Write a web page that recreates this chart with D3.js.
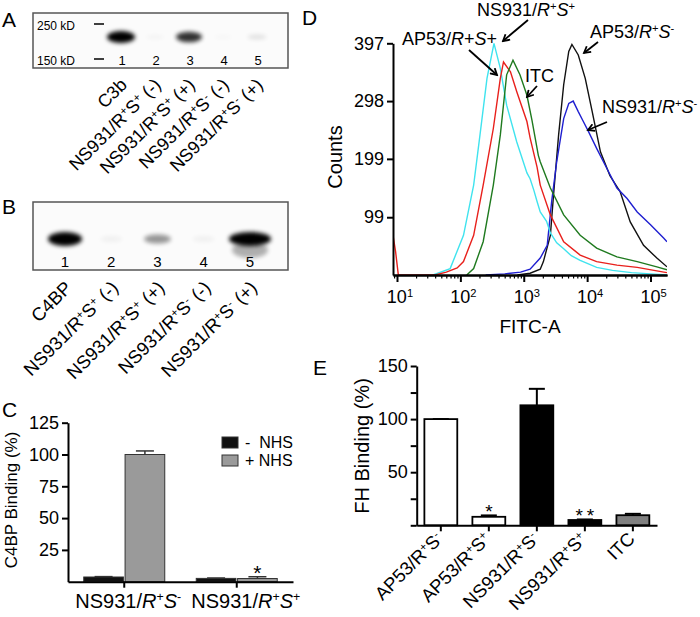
<!DOCTYPE html>
<html>
<head>
<meta charset="utf-8">
<script src="https://cdn.jsdelivr.net/npm/d3@7"></script>
<style>
body { margin: 0; background: #fff; }
svg { font-family: "Liberation Sans", Arial, sans-serif; }
</style>
</head>
<body>
<svg id="fig" width="700" height="617"></svg>
<script>
// ---------- data ----------
const laneNumbers = ["1", "2", "3", "4", "5"];
const blotALabels = ["C3b",
  "NS931/R<sup>+</sup>S<sup>+</sup> (-)", "NS931/R<sup>+</sup>S<sup>+</sup> (+)",
  "NS931/R<sup>+</sup>S<sup>-</sup> (-)", "NS931/R<sup>+</sup>S<sup>-</sup> (+)"];
const blotAIntensity = [1, 0.03, 0.8, 0.02, 0.1];
const blotAMarkers = ["250 kD", "150 kD"];
const blotBLabels = ["C4BP",
  "NS931/R<sup>+</sup>S<sup>+</sup> (-)", "NS931/R<sup>+</sup>S<sup>+</sup> (+)",
  "NS931/R<sup>+</sup>S<sup>-</sup> (-)", "NS931/R<sup>+</sup>S<sup>-</sup> (+)"];
const blotBIntensity = [1, 0.04, 0.4, 0.04, 1];
const blotBSmear = [0, 0, 0, 0, 0.3];

const c4bpGroups = ["NS931/<i>R</i><sup>+</sup><i>S</i><sup>-</sup>", "NS931/<i>R</i><sup>+</sup><i>S</i><sup>+</sup>"];
const nhsSeries = ["-  NHS", "+ NHS"];
const c4bpMinus = [3.7, 2.6];
const c4bpMinusErr = [0.3, 0.3];
const c4bpPlus = [100, 2.5];
const c4bpPlusErr = [2.8, 1.4];
const c4bpSig = ["", "*"];
const c4bpTicks = [25, 50, 75, 100, 125];

const flowNames = ["AP53/R+S-", "NS931/R+S-", "AP53/R+S+", "NS931/R+S+", "ITC"];
const flowColors = ["#111111", "#1f1fd0", "#3fe3ee", "#e8201c", "#1f7a1f"];
const flowAP53Minus = [[794, 0], [1259, 3], [1820, 10], [2042, 23], [2630, 68], [2951, 137], [3548, 240],
  [4266, 326], [5129, 383], [5754, 395], [7244, 377], [9333, 337], [12023, 280], [16218, 211],
  [22909, 170], [33113, 143], [47863, 91], [77625, 51], [125893, 29], [182000, 14]];
const flowNS931Minus = [[251, 0], [501, 2], [891, 5], [1259, 10], [1820, 29], [2344, 51], [2754, 126],
  [3311, 194], [4266, 268], [5129, 294], [6026, 298], [7244, 280], [8710, 263], [10471, 246],
  [14125, 217], [20417, 183], [29512, 149], [42658, 131], [61660, 108], [100000, 86], [162181, 63], [182000, 57]];
const flowAP53Plus = [[37, 0], [69, 11], [112, 68], [162, 154], [204, 240], [263, 337], [339, 397],
  [427, 354], [537, 291], [776, 228], [1122, 175], [1259, 165], [1445, 145], [1622, 126], [1820, 108],
  [2290, 92], [2630, 72], [3311, 55], [4266, 45], [5623, 33], [7762, 25], [14125, 13], [25119, 8],
  [50119, 4], [100000, 2], [182000, 0]];
const flowNS931Plus = [[8.65, 68], [9.5, 40], [10.5, 0], [40, 0], [60, 5], [89, 12], [112, 23], [162, 68],
  [229, 154], [331, 251], [427, 337], [479, 365], [617, 348], [776, 314], [1122, 263], [1259, 235],
  [1622, 185], [1820, 154], [2630, 103], [4266, 57], [7762, 34], [14125, 23], [29512, 17],
  [61660, 13], [162181, 5], [182000, 4]];
const flowITC = [[126, 0], [162, 11], [229, 57], [331, 154], [427, 240], [537, 343], [676, 368],
  [871, 343], [1122, 308], [1349, 265], [1698, 205], [1820, 194], [2630, 149], [4266, 103],
  [7762, 68], [14125, 46], [29512, 31], [61660, 23], [125893, 14], [182000, 9]];
const flowCounts = [99, 199, 298, 397];
const flowDecades = [1, 2, 3, 4, 5];

const fhGroups = ["AP53/R<sup>+</sup>S<sup>-</sup>", "AP53/R<sup>+</sup>S<sup>+</sup>",
  "NS931/R<sup>+</sup>S<sup>-</sup>", "NS931/R<sup>+</sup>S<sup>+</sup>", "ITC"];
const fhValues = [100, 8, 113, 5, 9.5];
const fhErr = [0, 1.3, 15.5, 0.5, 1.3];
const fhSig = ["", "*", "", "**", ""];
const fhTicks = [0, 25, 50, 75, 100, 125, 150];
const fhLabelTicks = [50, 100, 150];

// ---------- helpers ----------
const svg = d3.select("#fig");

function rich(t, markup) {
  const re = /<(i|sup)>(.*?)<\/\1>|([^<]+)/g;
  let m;
  while ((m = re.exec(markup)) !== null) {
    if (m[3]) t.append("tspan").text(m[3]);
    else if (m[1] === "i") t.append("tspan").attr("font-style", "italic").text(m[2]);
    else t.append("tspan").attr("baseline-shift", "super").attr("font-size", "0.62em").text(m[2]);
  }
  return t;
}

function styleAxis(g) {
  g.attr("font-family", null).attr("font-size", null);
  g.selectAll("path.domain").attr("stroke", "#000").attr("stroke-width", 2);
  g.selectAll(".tick line").attr("stroke", "#000").attr("stroke-width", 2);
  g.selectAll(".tick text").attr("fill", "#000").attr("font-size", 18);
}

const defs = svg.append("defs");
defs.append("filter").attr("id", "blur").attr("x", "-50%").attr("y", "-100%")
  .attr("width", "200%").attr("height", "300%")
  .append("feGaussianBlur").attr("stdDeviation", 2.2);
defs.append("marker").attr("id", "arrow").attr("viewBox", "0 0 10 10")
  .attr("refX", 8).attr("refY", 5).attr("markerWidth", 5).attr("markerHeight", 5)
  .attr("orient", "auto")
  .append("path").attr("d", "M1,1 L8,5 L1,9").attr("fill", "none")
  .attr("stroke", "#000").attr("stroke-width", 2);
defs.append("clipPath").attr("id", "flowClip").append("rect")
  .attr("x", 393).attr("y", 0).attr("width", 274).attr("height", 276);

// panel letters
[["A", 2, 27], ["B", 2, 214], ["C", 2, 417], ["D", 302, 25], ["E", 313, 375]].forEach(([l, x, y]) => {
  svg.append("text").attr("x", x).attr("y", y).attr("font-size", 21).text(l);
});

// ---------- A: blot ----------
const laneA = d3.scalePoint().domain(laneNumbers).range([122, 258]);
const gA = svg.append("g");
gA.append("rect").attr("x", 33).attr("y", 13).attr("width", 255).attr("height", 55)
  .attr("fill", "#fbfbfb").attr("stroke", "#555").attr("stroke-width", 1.5);
gA.selectAll(".band").data(laneNumbers).enter().append("ellipse")
  .attr("cx", d => laneA(d) - 1)
  .attr("cy", 37)
  .attr("rx", (d, i) => 9 + 5 * blotAIntensity[i])
  .attr("ry", (d, i) => 2 + 4 * blotAIntensity[i])
  .attr("fill", "#000")
  .attr("opacity", (d, i) => blotAIntensity[i])
  .attr("filter", "url(#blur)");
gA.selectAll(".lane").data(laneNumbers).enter().append("text")
  .attr("x", d => laneA(d)).attr("y", 65).attr("text-anchor", "middle")
  .attr("font-size", 13).text(d => d);
blotAMarkers.forEach((m, i) => {
  const y = [24, 59][i];
  gA.append("text").attr("x", 37).attr("y", y + 6).attr("font-size", 12).text(m);
  gA.append("line").attr("x1", 94).attr("x2", 104).attr("y1", y).attr("y2", y)
    .attr("stroke", "#000").attr("stroke-width", 1.5);
});
gA.selectAll(".lbl").data(blotALabels).enter().append("text")
  .attr("transform", (d, i) => `translate(${laneA(laneNumbers[i]) + 6},86) rotate(-45)`)
  .attr("text-anchor", "end").attr("font-size", 18)
  .each(function(d) { rich(d3.select(this), d); });

// ---------- B: blot ----------
const laneB = d3.scalePoint().domain(laneNumbers).range([65, 250]);
const gB = svg.append("g");
gB.append("rect").attr("x", 33).attr("y", 202).attr("width", 255).attr("height", 68)
  .attr("fill", "#fbfbfb").attr("stroke", "#555").attr("stroke-width", 1.5);
gB.selectAll(".smear").data(laneNumbers).enter().append("ellipse")
  .attr("cx", d => laneB(d)).attr("cy", 250)
  .attr("rx", 18).attr("ry", 8)
  .attr("fill", "#000").attr("opacity", (d, i) => blotBSmear[i])
  .attr("filter", "url(#blur)");
gB.selectAll(".band").data(laneNumbers).enter().append("ellipse")
  .attr("cx", d => laneB(d))
  .attr("cy", 239)
  .attr("rx", (d, i) => 11 + 6 * blotBIntensity[i] + (i === 4 ? 4 : 0))
  .attr("ry", (d, i) => 3 + 4 * blotBIntensity[i])
  .attr("fill", "#000")
  .attr("opacity", (d, i) => blotBIntensity[i])
  .attr("filter", "url(#blur)");
gB.selectAll(".lane").data(laneNumbers).enter().append("text")
  .attr("x", d => laneB(d)).attr("y", 267).attr("text-anchor", "middle")
  .attr("font-size", 15).text(d => d);
gB.selectAll(".lbl").data(blotBLabels).enter().append("text")
  .attr("transform", (d, i) => `translate(${laneB(laneNumbers[i]) + 8},289) rotate(-45)`)
  .attr("text-anchor", "end").attr("font-size", 18.5)
  .each(function(d) { rich(d3.select(this), d); });

// ---------- C: C4BP binding ----------
const xC = d3.scaleBand().domain(c4bpGroups).range([68, 293]).paddingInner(0.28).paddingOuter(0.14);
const xCsub = d3.scaleBand().domain(nhsSeries).range([0, xC.bandwidth()]).paddingInner(0.04);
const yC = d3.scaleLinear().domain([0, 125]).range([581.7, 422.7]);
const gC = svg.append("g");
const cData = c4bpGroups.flatMap((g, i) => [
  { g, s: nhsSeries[0], v: c4bpMinus[i], e: c4bpMinusErr[i], fill: "#111", sig: "" },
  { g, s: nhsSeries[1], v: c4bpPlus[i], e: c4bpPlusErr[i], fill: "#9a9a9a", sig: c4bpSig[i] }
]);
const cBars = gC.selectAll(".bar").data(cData).enter().append("g");
cBars.append("line")
  .attr("x1", d => xC(d.g) + xCsub(d.s) + xCsub.bandwidth() / 2)
  .attr("x2", d => xC(d.g) + xCsub(d.s) + xCsub.bandwidth() / 2)
  .attr("y1", d => yC(d.v)).attr("y2", d => yC(d.v + d.e))
  .attr("stroke", "#333").attr("stroke-width", 1.5);
cBars.append("line")
  .attr("x1", d => xC(d.g) + xCsub(d.s) + xCsub.bandwidth() / 2 - 9)
  .attr("x2", d => xC(d.g) + xCsub(d.s) + xCsub.bandwidth() / 2 + 9)
  .attr("y1", d => yC(d.v + d.e)).attr("y2", d => yC(d.v + d.e))
  .attr("stroke", "#333").attr("stroke-width", 1.5);
cBars.append("rect")
  .attr("x", d => xC(d.g) + xCsub(d.s))
  .attr("y", d => yC(d.v))
  .attr("width", xCsub.bandwidth())
  .attr("height", d => yC(0) - yC(d.v))
  .attr("fill", d => d.fill).attr("stroke", "#333").attr("stroke-width", 1);
cBars.append("text")
  .attr("x", d => xC(d.g) + xCsub(d.s) + xCsub.bandwidth() / 2)
  .attr("y", d => yC(d.v + d.e) + 3)
  .attr("text-anchor", "middle").attr("font-size", 21)
  .text(d => d.sig);

gC.append("g").attr("transform", "translate(68,0)")
  .call(d3.axisLeft(yC).tickValues(c4bpTicks).tickSize(6).tickSizeOuter(0))
  .call(styleAxis);
gC.append("g").attr("transform", "translate(0,581.7)")
  .call(d3.axisBottom(xC).tickSize(6).tickSizeOuter(0).tickFormat(""))
  .call(styleAxis);
gC.selectAll(".clbl").data(c4bpGroups).enter().append("text")
  .attr("x", (d, i) => xC(d) + xC.bandwidth() / 2 + [4, 9][i]).attr("y", 608)
  .attr("text-anchor", "middle").attr("font-size", 20)
  .each(function(d) { rich(d3.select(this), d); });
gC.append("text").attr("transform", "translate(17,500) rotate(-90)")
  .attr("text-anchor", "middle").attr("font-size", 17).text("C4BP Binding (%)");
nhsSeries.forEach((s, i) => {
  gC.append("rect").attr("x", 222).attr("y", 437 + 18 * i).attr("width", 16).attr("height", 11)
    .attr("fill", i === 0 ? "#111" : "#9a9a9a").attr("stroke", "#333");
  gC.append("text").attr("x", 245).attr("y", 448 + 18 * i).attr("font-size", 16)
    .attr("xml:space", "preserve").text(s);
});

// ---------- D: flow cytometry ----------
const xD = d3.scaleLog().domain([8.65, 182000]).range([393, 667]);
const yD = d3.scaleLinear().domain([0, 397]).range([275, 43.3]);
const gD = svg.append("g");
const flowSeries = [flowAP53Minus, flowNS931Minus, flowAP53Plus, flowNS931Plus, flowITC];
const lineD = d3.line().x(d => xD(d[0])).y(d => yD(d[1]));
gD.append("g").attr("clip-path", "url(#flowClip)")
  .selectAll("path").data(flowSeries).enter().append("path")
  .attr("d", lineD).attr("fill", "none")
  .attr("stroke", (d, i) => flowColors[i]).attr("stroke-width", 1.4);

const minorTicks = [];
flowDecades.concat([0]).forEach(k => {
  for (let m = 2; m <= 9; m++) {
    const v = m * Math.pow(10, k);
    if (v > xD.domain()[0] && v < xD.domain()[1]) minorTicks.push(v);
  }
});
gD.append("g").attr("transform", "translate(0,275)")
  .call(d3.axisBottom(xD).tickValues(flowDecades.map(k => Math.pow(10, k))).tickSize(7).tickSizeOuter(0).tickFormat(""))
  .call(styleAxis);
gD.append("g").attr("transform", "translate(0,275)")
  .call(d3.axisBottom(xD).tickValues(minorTicks).tickSize(3.5).tickSizeOuter(0).tickFormat(""))
  .call(styleAxis)
  .call(g => g.selectAll(".tick line").attr("stroke-width", 1.2));
gD.selectAll(".dlbl").data(flowDecades).enter().append("text")
  .attr("x", k => xD(Math.pow(10, k)) + 3).attr("y", 303)
  .attr("text-anchor", "middle").attr("font-size", 18)
  .each(function(k) { rich(d3.select(this), `10<sup>${k}</sup>`); });
gD.append("g").attr("transform", "translate(393,0)")
  .call(d3.axisLeft(yD).tickValues(flowCounts).tickSize(6).tickSizeOuter(0))
  .call(styleAxis);
gD.append("text").attr("transform", "translate(342,157) rotate(-90)")
  .attr("text-anchor", "middle").attr("font-size", 20).text("Counts");
gD.append("text").attr("x", 530).attr("y", 333)
  .attr("text-anchor", "middle").attr("font-size", 19).text("FITC-A");

const notes = [
  { t: "NS931/<i>R</i><sup>+</sup><i>S</i><sup>+</sup>", x: 477, y: 16, a: [528, 20, 503, 41] },
  { t: "AP53/<i>R</i>+<i>S</i>+", x: 402, y: 45, a: [469, 50, 497, 75] },
  { t: "ITC", x: 525, y: 82, a: [537, 86, 527, 97] },
  { t: "AP53/<i>R</i><sup>+</sup><i>S</i><sup>-</sup>", x: 590, y: 38, a: [598, 42, 584, 53] },
  { t: "NS931/<i>R</i><sup>+</sup><i>S</i><sup>-</sup>", x: 602, y: 113, a: [607, 122, 588, 130] }
];
notes.forEach(n => {
  rich(gD.append("text").attr("x", n.x).attr("y", n.y).attr("font-size", 18), n.t);
  gD.append("line").attr("x1", n.a[0]).attr("y1", n.a[1]).attr("x2", n.a[2]).attr("y2", n.a[3])
    .attr("stroke", "#000").attr("stroke-width", 1.8).attr("marker-end", "url(#arrow)");
});

// ---------- E: FH binding ----------
const xE = d3.scaleBand().domain(fhGroups).range([416.7, 657]).paddingInner(0.315).paddingOuter(0.16);
const yE = d3.scaleLinear().domain([0, 150]).range([525.3, 366]);
const gE = svg.append("g");
const fhFills = ["#fff", "#fff", "#000", "#000", "#808080"];
const eBars = gE.selectAll(".bar").data(fhGroups).enter().append("g");
eBars.append("line")
  .attr("x1", d => xE(d) + xE.bandwidth() / 2).attr("x2", d => xE(d) + xE.bandwidth() / 2)
  .attr("y1", (d, i) => yE(fhValues[i])).attr("y2", (d, i) => yE(fhValues[i] + fhErr[i]))
  .attr("stroke", "#000").attr("stroke-width", 2);
eBars.append("line")
  .attr("x1", d => xE(d) + xE.bandwidth() / 2 - 8).attr("x2", d => xE(d) + xE.bandwidth() / 2 + 8)
  .attr("y1", (d, i) => yE(fhValues[i] + fhErr[i])).attr("y2", (d, i) => yE(fhValues[i] + fhErr[i]))
  .attr("stroke", "#000").attr("stroke-width", 2);
eBars.append("rect")
  .attr("x", d => xE(d)).attr("y", (d, i) => yE(fhValues[i]))
  .attr("width", xE.bandwidth()).attr("height", (d, i) => yE(0) - yE(fhValues[i]))
  .attr("fill", (d, i) => fhFills[i]).attr("stroke", "#000").attr("stroke-width", 1.8);
eBars.append("text")
  .attr("x", d => xE(d) + xE.bandwidth() / 2 + 2).attr("y", (d, i) => yE(fhValues[i] + fhErr[i]) + 3)
  .attr("text-anchor", "middle").attr("font-size", 19).attr("letter-spacing", 4)
  .text((d, i) => fhSig[i]);

gE.append("g").attr("transform", "translate(416.7,0)")
  .call(d3.axisLeft(yE).tickValues(fhTicks).tickSize(6).tickSizeOuter(0)
    .tickFormat(v => fhLabelTicks.includes(v) ? v : ""))
  .call(styleAxis);
gE.append("g").attr("transform", "translate(0,525.3)")
  .call(d3.axisBottom(xE).tickSize(6).tickSizeOuter(0).tickFormat(""))
  .call(styleAxis);
gE.selectAll(".elbl").data(fhGroups).enter().append("text")
  .attr("transform", d => `translate(${xE(d) + xE.bandwidth() / 2 + 3},540) rotate(-45)`)
  .attr("text-anchor", "end").attr("font-size", 18.5)
  .each(function(d) { rich(d3.select(this), d); });
gE.append("text").attr("transform", "translate(369,446) rotate(-90)")
  .attr("text-anchor", "middle").attr("font-size", 20).text("FH Binding (%)");
</script>
</body>
</html>
